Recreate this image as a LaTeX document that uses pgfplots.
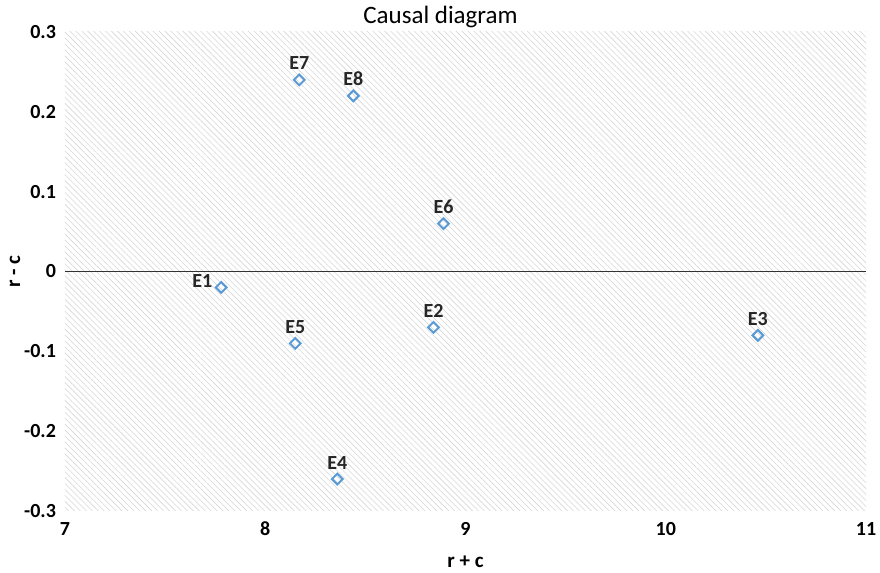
\documentclass[border=0pt]{standalone}
\usepackage{pgfplots}
\pgfplotsset{compat=1.18}
\usepackage{fontspec}
\setmainfont{Carlito}
\usetikzlibrary{patterns.meta}
\definecolor{mk}{HTML}{5B9BD5}
\begin{document}
\begin{tikzpicture}
\begin{axis}[
  name=ax,
  scale only axis,
  width=400.5pt, height=239.5pt,
  xmin=7, xmax=11, ymin=-0.3, ymax=0.3,
  xtick={7,8,9,10,11},
  ytick={-0.3,-0.2,-0.1,0,0.1,0.2,0.3},
  axis line style={draw=none},
  major tick length=0pt,
  /pgf/number format/assume math mode=true,
  ticklabel style={font=\fontsize{10}{12}\selectfont\bfseries},
  yticklabel style={xshift=-1pt},
  xticklabel style={yshift=-2pt},
  axis background/.style={pattern={Lines[angle=-45,distance=2.1pt,line width=0.3pt]}, pattern color=gray!32},
  clip=false,
  nodes near coords,
  point meta=explicit symbolic,
  every node near coord/.style={font=\fontsize{10}{12}\selectfont\bfseries, black!85, inner sep=1pt},
]
\draw[black!80, line width=0.9pt] (axis cs:7,0) -- (axis cs:11,0);
\addplot[only marks, mark=square, mark options={rotate=45}, mark size=1.9pt, mk, line width=1pt,
  nodes near coords align={above}, every node near coord/.append style={yshift=3.5pt}]
  table[meta=label] {
x y label
8.17 0.24 E7
8.44 0.22 E8
8.89 0.06 E6
8.15 -0.09 E5
8.84 -0.07 E2
10.46 -0.08 E3
8.36 -0.26 E4
};
\addplot[only marks, mark=square, mark options={rotate=45}, mark size=1.9pt, mk, line width=1pt,
  nodes near coords align={left}, every node near coord/.append style={xshift=-3pt, yshift=3pt}]
  table[meta=label] {
x y label
7.78 -0.02 E1
};
\end{axis}
\node[font=\fontsize{12.5}{15}\selectfont] at ([xshift=-12.5pt,yshift=7.5pt]ax.north) {Causal diagram};
\node[font=\fontsize{10.5}{12}\selectfont\bfseries] at ([yshift=-25.5pt]ax.south) {r + c};
\node[font=\fontsize{10.5}{12}\selectfont\bfseries, rotate=90] at ([xshift=-25pt]ax.west) {r - c};
\pgfresetboundingbox
\path ([shift={(-32.5pt,-31pt)}]ax.south west) rectangle ([shift={(7pt,16pt)}]ax.north east);
\end{tikzpicture}
\end{document}
